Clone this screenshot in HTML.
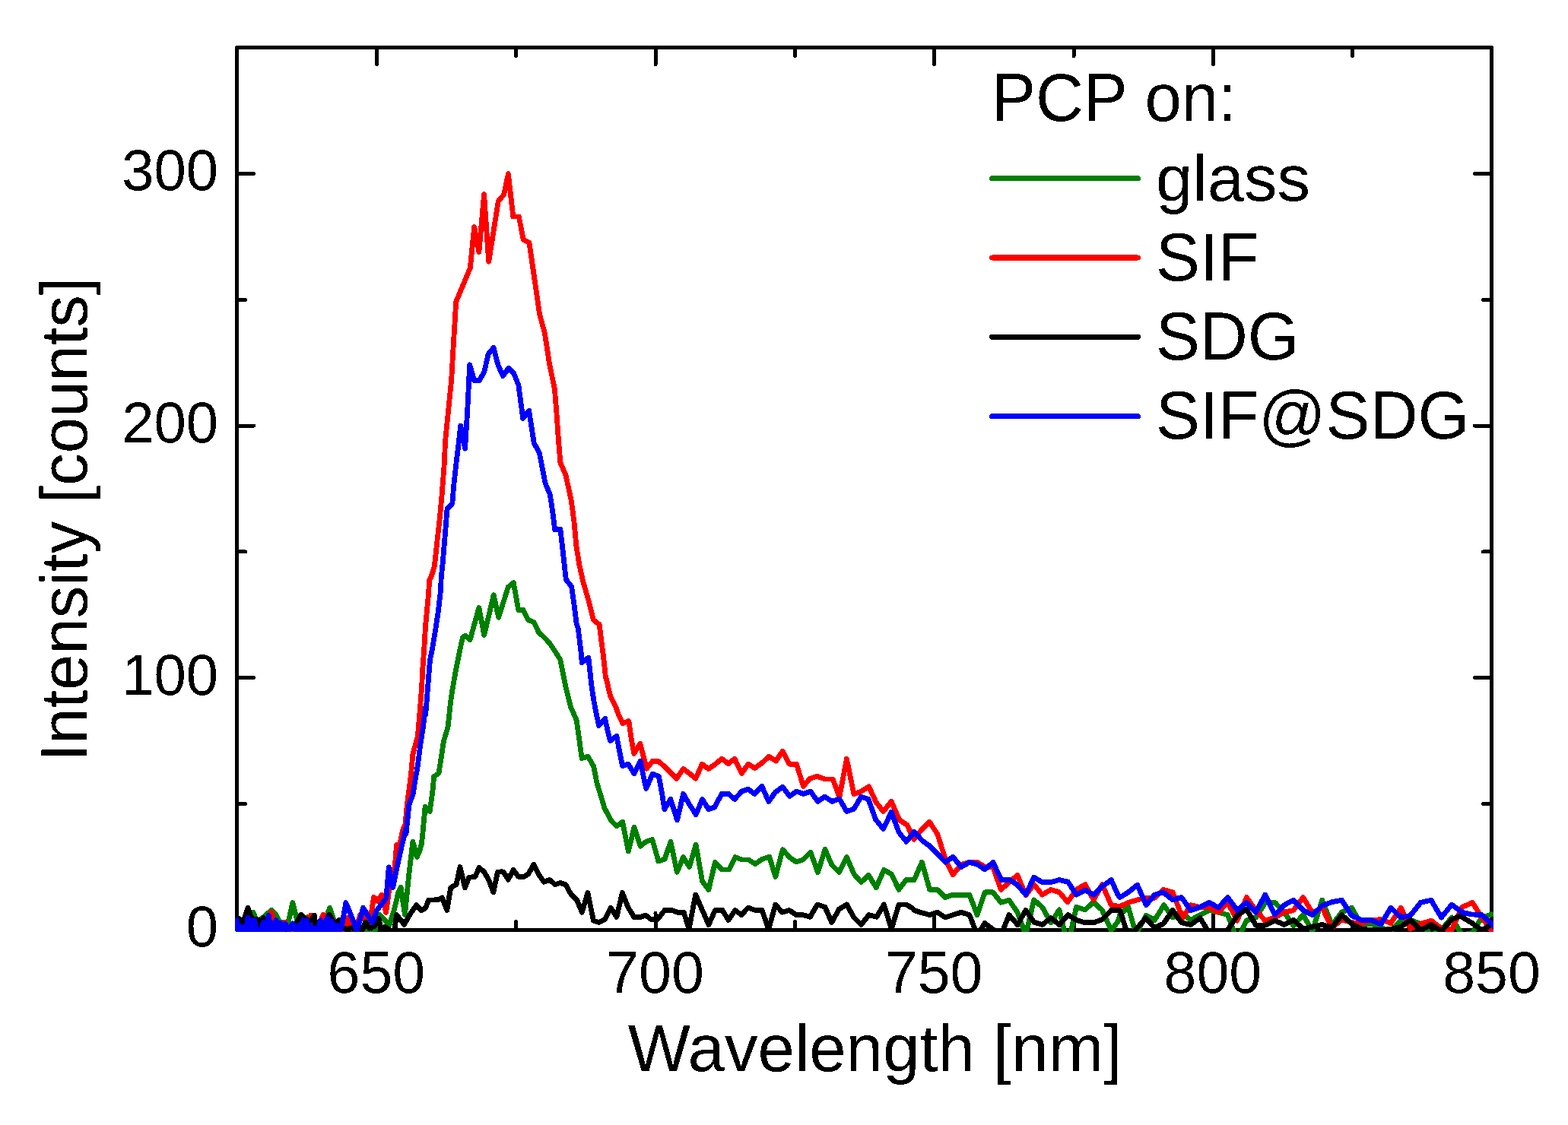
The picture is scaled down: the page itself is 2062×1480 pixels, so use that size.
<!DOCTYPE html>
<html lang="en"><head><meta charset="utf-8"><title>PCP emission spectra</title>
<style>
html,body{margin:0;padding:0;background:#fff;}
body{width:2062px;height:1480px;}
svg{display:block;}
text{font-family:"Liberation Sans",sans-serif;fill:#000;}
.tick{font-size:77px;}
.lab{font-size:87px;}
.ax{stroke:#000;stroke-width:5;fill:none;}
.cv{fill:none;stroke-width:6.8;stroke-linejoin:round;stroke-linecap:round;}
</style></head><body>
<svg width="2062" height="1480" viewBox="0 0 2062 1480">
<rect x="0" y="0" width="2062" height="1480" fill="#fff"/>
<defs><filter id="crisp" x="0" y="0" width="2062" height="1480" filterUnits="userSpaceOnUse" color-interpolation-filters="sRGB"><feComponentTransfer><feFuncA type="discrete" tableValues="0 1"/></feComponentTransfer></filter><clipPath id="clip"><rect x="309" y="60" width="1655" height="1166"/></clipPath></defs>
<g shape-rendering="crispEdges">
<rect class="ax" stroke-linejoin="round" x="311.5" y="62.5" width="1650" height="1161"/>
<path class="ax" stroke-linecap="round" d="M495.33 1223.50V1201.50M495.33 62.50V84.50M862.00 1223.50V1201.50M862.00 62.50V84.50M1228.67 1223.50V1201.50M1228.67 62.50V84.50M1595.33 1223.50V1201.50M1595.33 62.50V84.50M678.67 1223.50V1212.50M678.67 62.50V73.50M1045.33 1223.50V1212.50M1045.33 62.50V73.50M1412.00 1223.50V1212.50M1412.00 62.50V73.50M1778.67 1223.50V1212.50M1778.67 62.50V73.50M311.50 891.79H333.50M1961.50 891.79H1939.50M311.50 560.07H333.50M1961.50 560.07H1939.50M311.50 228.36H333.50M1961.50 228.36H1939.50M311.50 1057.64H322.50M1961.50 1057.64H1950.50M311.50 725.93H322.50M1961.50 725.93H1950.50M311.50 394.21H322.50M1961.50 394.21H1950.50"/>
</g>
<g clip-path="url(#clip)" shape-rendering="crispEdges">
<path class="cv" stroke="#008000" d="M311.3 1222.2 L314.8 1212.3 L327.6 1222.2 L333.1 1200.2 L337.5 1211.4 L343.4 1208.4 L349.3 1204.5 L353.3 1200.5 L357.2 1197.3 L363.1 1203.5 L368.1 1213.3 L378.9 1214.3 L384.9 1187.4 L391.3 1213.3 L398.7 1218.3 L404.6 1206.4 L410.5 1218.3 L428.3 1208.4 L433.7 1194.3 L439.1 1210.4 L442.1 1212.8 L448.0 1221.2 L457.9 1219.3 L467.7 1223.5 L479.7 1230.1 L483.2 1225.4 L488.1 1229.1 L492.6 1226.4 L499.0 1203.0 L505.4 1209.9 L512.3 1216.3 L518.2 1197.5 L523.6 1174.9 L527.1 1167.5 L532.5 1203.5 L537.9 1149.2 L542.9 1107.3 L548.3 1127.5 L551.8 1119.6 L554.5 1109.7 L556.5 1090.0 L559.1 1061.6 L565.2 1067.4 L567.4 1052.0 L569.1 1039.1 L570.6 1021.8 L577.0 1017.3 L580.2 996.8 L583.5 974.9 L589.2 955.7 L591.8 930.0 L594.4 910.5 L598.9 884.8 L602.7 865.6 L605.3 852.7 L608.5 838.6 L611.7 836.3 L618.1 841.8 L629.9 799.4 L636.7 835.4 L649.2 782.7 L655.6 812.3 L668.2 772.5 L675.3 766.4 L681.7 802.4 L688.1 802.4 L694.5 815.5 L702.2 818.7 L708.6 832.2 L715.7 838.6 L722.8 846.3 L729.8 856.6 L736.9 868.1 L740.1 884.8 L744.0 904.1 L750.4 929.8 L754.9 940.0 L758.3 947.9 L761.7 972.3 L765.1 997.5 L773.3 995.2 L780.7 1008.3 L784.8 1029.4 L788.9 1042.9 L795.0 1063.3 L803.8 1079.6 L810.9 1086.8 L818.7 1081.4 L826.3 1120.1 L834.0 1088.2 L842.1 1113.3 L849.6 1107.2 L857.8 1104.5 L865.9 1133.0 L874.1 1130.3 L881.9 1107.2 L890.3 1147.3 L898.5 1127.6 L906.6 1140.5 L915.1 1111.3 L923.6 1159.5 L931.9 1170.4 L940.4 1134.4 L949.2 1143.9 L958.7 1143.9 L966.8 1127.6 L975.7 1131.0 L984.5 1131.0 L993.1 1136.7 L1002.2 1130.3 L1011.7 1127.2 L1019.8 1153.4 L1029.3 1117.7 L1038.1 1127.6 L1047.0 1134.0 L1055.8 1131.0 L1066.0 1121.2 L1075.5 1147.7 L1085.0 1117.4 L1093.8 1137.8 L1103.6 1147.3 L1113.5 1127.6 L1123.0 1150.0 L1132.5 1160.6 L1142.3 1151.3 L1152.2 1167.6 L1162.4 1144.3 L1172.3 1150.0 L1182.1 1170.4 L1191.6 1157.5 L1200.0 1157.5 L1202.2 1157.5 L1212.4 1134.1 L1222.6 1170.4 L1232.8 1170.4 L1243.0 1180.5 L1253.1 1177.1 L1274.9 1177.1 L1285.1 1203.6 L1295.2 1173.8 L1305.8 1173.8 L1316.3 1187.3 L1327.1 1184.2 L1338.0 1200.2 L1348.9 1230.1 L1359.7 1183.9 L1370.6 1193.4 L1382.1 1213.8 L1393.0 1196.8 L1404.3 1243.7 L1415.4 1193.4 L1427.0 1196.8 L1438.2 1186.7 L1449.4 1197.5 L1461.3 1224.0 L1470.0 1212.5 L1472.9 1202.9 L1483.8 1193.4 L1493.9 1228.7 L1507.3 1204.3 L1518.4 1210.4 L1530.6 1190.7 L1542.2 1207.0 L1553.7 1200.9 L1565.9 1210.4 L1578.1 1203.6 L1590.4 1197.5 L1602.3 1200.2 L1614.5 1203.6 L1627.0 1236.9 L1639.2 1211.1 L1651.5 1207.0 L1663.7 1188.0 L1676.6 1187.3 L1688.8 1200.2 L1701.0 1217.9 L1713.7 1203.6 L1725.9 1224.7 L1738.7 1184.2 L1751.6 1216.5 L1764.5 1200.2 L1777.4 1194.1 L1790.3 1216.5 L1803.2 1215.2 L1816.1 1220.6 L1829.0 1224.7 L1842.3 1211.1 L1854.8 1210.4 L1868.4 1215.2 L1882.0 1230.1 L1895.5 1223.3 L1909.1 1207.0 L1922.7 1230.1 L1936.3 1227.4 L1948.5 1207.0 L1961.5 1202.9"/>
<path class="cv" stroke="#ff0000" d="M311.3 1220.2 L319.2 1210.1 L321.2 1217.3 L325.7 1223.2 L347.4 1223.5 L349.3 1221.2 L353.3 1208.4 L356.7 1200.2 L360.2 1209.4 L365.1 1218.3 L375.0 1213.3 L378.9 1222.2 L388.3 1222.7 L398.7 1218.3 L408.5 1204.2 L411.5 1213.3 L418.4 1218.3 L425.3 1203.2 L428.3 1214.3 L432.2 1222.2 L440.1 1212.3 L447.0 1223.5 L451.9 1222.2 L456.9 1207.4 L459.8 1217.3 L467.7 1223.5 L473.7 1203.5 L473.7 1203.5 L480.2 1209.4 L486.1 1214.3 L491.6 1180.3 L496.5 1185.2 L501.9 1177.3 L507.6 1200.5 L511.3 1173.9 L515.3 1157.1 L518.9 1141.3 L520.4 1127.5 L521.4 1111.4 L525.9 1110.2 L529.1 1094.9 L530.3 1090.0 L533.1 1084.1 L535.3 1058.4 L537.9 1039.1 L540.4 1019.9 L543.0 991.6 L549.4 968.5 L552.6 930.0 L552.6 929.8 L554.6 904.1 L555.9 878.4 L557.8 852.7 L559.7 821.9 L562.9 788.5 L564.8 762.8 L566.5 760.0 L571.3 745.3 L573.2 727.9 L576.4 698.4 L578.3 681.7 L580.9 653.5 L584.1 612.4 L585.6 580.0 L589.2 544.1 L593.7 499.1 L596.5 450.3 L599.7 397.1 L618.3 352.5 L623.7 298.6 L629.9 331.3 L636.6 255.6 L642.7 344.2 L655.3 264.6 L662.6 256.2 L668.4 228.6 L674.8 284.9 L682.3 284.9 L688.3 315.3 L696.0 319.1 L709.5 413.1 L716.5 438.8 L722.3 477.3 L729.4 512.0 L732.0 544.1 L734.5 580.0 L736.9 608.5 L744.0 625.2 L751.0 657.3 L754.9 685.6 L757.8 717.7 L761.8 743.0 L767.0 766.0 L772.7 785.5 L777.3 802.7 L780.2 815.3 L788.2 821.7 L790.5 840.6 L792.8 857.9 L794.5 872.8 L796.3 890.0 L798.4 897.7 L802.5 915.3 L809.3 928.9 L813.3 939.7 L818.8 951.6 L826.9 948.6 L830.3 972.3 L833.7 991.3 L841.8 978.4 L845.2 991.3 L850.3 1011.3 L858.1 1001.5 L865.6 1001.5 L873.8 1008.3 L881.2 1015.8 L889.6 1024.2 L898.6 1011.4 L906.3 1017.1 L914.9 1024.2 L923.3 1005.2 L931.7 1011.4 L940.3 1005.6 L949.1 998.1 L957.7 1004.7 L966.1 998.1 L975.3 1017.4 L984.0 1005.2 L992.6 1010.6 L1002.1 1003.6 L1011.2 995.4 L1020.0 1000.9 L1020.4 1001.1 L1029.2 988.2 L1038.0 1005.2 L1047.5 1005.2 L1056.4 1034.4 L1065.2 1024.2 L1074.7 1021.2 L1084.2 1024.9 L1095.1 1024.9 L1103.9 1048.6 L1113.4 998.4 L1122.9 1044.6 L1132.4 1041.2 L1142.6 1034.8 L1152.1 1055.4 L1161.6 1067.6 L1172.2 1054.3 L1182.6 1078.5 L1192.8 1085.3 L1201.9 1104.3 L1212.5 1090.7 L1222.3 1081.2 L1232.9 1097.5 L1243.1 1130.1 L1253.1 1150.7 L1264.0 1137.5 L1274.9 1134.1 L1285.1 1134.1 L1295.2 1140.5 L1305.8 1140.5 L1316.3 1170.4 L1327.1 1160.9 L1338.0 1151.3 L1348.9 1177.8 L1359.7 1163.6 L1370.6 1177.1 L1382.1 1170.4 L1393.0 1173.8 L1403.9 1186.7 L1415.4 1170.4 L1427.0 1163.6 L1438.2 1183.9 L1449.4 1163.6 L1461.3 1190.7 L1470.0 1192.1 L1472.2 1192.8 L1483.8 1187.3 L1495.6 1183.9 L1507.3 1181.2 L1518.4 1181.2 L1529.9 1170.4 L1542.2 1173.8 L1555.1 1207.7 L1565.9 1190.7 L1578.1 1193.4 L1590.4 1194.1 L1602.3 1200.2 L1614.5 1187.3 L1627.0 1211.1 L1639.2 1180.5 L1651.5 1197.5 L1663.7 1211.1 L1676.6 1207.0 L1688.8 1200.2 L1701.0 1197.5 L1713.7 1180.5 L1725.9 1200.9 L1738.7 1194.1 L1751.6 1220.6 L1764.5 1209.7 L1777.4 1213.8 L1790.3 1215.2 L1803.2 1210.4 L1816.1 1209.7 L1829.0 1214.5 L1842.3 1194.1 L1854.8 1222.0 L1868.4 1215.2 L1882.0 1211.1 L1895.5 1221.3 L1909.1 1223.3 L1922.7 1193.4 L1936.3 1187.3 L1948.5 1207.0 L1961.5 1224.7"/>
<path class="cv" stroke="#000000" d="M311.3 1221.2 L313.8 1208.4 L319.7 1213.3 L326.1 1194.3 L330.6 1208.4 L339.5 1210.1 L340.9 1221.2 L346.4 1207.6 L350.3 1218.3 L355.3 1223.5 L377.0 1223.5 L381.9 1221.4 L386.8 1222.2 L390.8 1213.3 L395.7 1203.2 L401.6 1208.4 L407.5 1212.3 L413.5 1204.2 L414.9 1217.3 L418.4 1223.5 L427.3 1213.3 L433.2 1203.2 L438.1 1213.3 L442.1 1215.3 L446.0 1210.1 L450.0 1221.2 L456.9 1222.2 L462.8 1220.4 L467.7 1223.2 L475.6 1223.5 L480.9 1213.3 L485.7 1221.2 L492.6 1218.3 L498.0 1208.4 L501.4 1223.5 L506.4 1219.3 L512.3 1223.5 L518.2 1226.2 L521.7 1203.5 L531.5 1216.3 L539.9 1201.5 L547.8 1190.6 L553.7 1197.7 L559.7 1194.6 L563.6 1184.2 L576.4 1183.7 L581.4 1181.0 L587.8 1197.5 L592.7 1167.9 L600.1 1163.5 L605.0 1140.5 L611.5 1167.9 L616.9 1154.1 L624.8 1153.6 L630.2 1141.3 L636.6 1147.2 L642.5 1157.1 L648.9 1173.9 L654.4 1147.2 L660.0 1146.7 L662.2 1147.3 L668.3 1157.1 L675.1 1144.3 L681.9 1153.4 L688.7 1153.4 L694.8 1150.0 L701.9 1137.1 L709.1 1151.3 L715.2 1160.2 L722.6 1157.5 L730.1 1163.6 L736.9 1161.5 L743.7 1163.6 L750.5 1175.8 L758.6 1183.9 L765.4 1200.2 L772.9 1174.4 L780.4 1211.1 L787.8 1213.5 L795.3 1209.7 L803.2 1194.1 L810.9 1206.3 L818.4 1174.4 L825.8 1193.4 L834.0 1206.8 L841.5 1206.8 L848.9 1204.0 L856.4 1209.7 L864.5 1209.7 L874.1 1197.5 L883.6 1197.5 L891.0 1200.2 L899.2 1200.2 L906.0 1222.0 L914.8 1177.1 L931.9 1216.5 L940.4 1197.5 L949.9 1197.5 L958.0 1210.4 L966.8 1197.5 L975.0 1203.6 L983.8 1194.1 L993.3 1197.5 L1002.2 1197.5 L1010.7 1222.6 L1019.8 1190.0 L1028.6 1200.2 L1037.9 1197.5 L1047.0 1203.6 L1055.8 1203.6 L1065.3 1206.3 L1074.8 1190.0 L1085.0 1193.4 L1093.8 1213.5 L1103.3 1196.2 L1113.5 1190.0 L1123.0 1207.0 L1132.5 1216.5 L1142.7 1203.6 L1152.9 1206.3 L1162.4 1190.0 L1172.3 1222.0 L1182.1 1190.0 L1191.6 1190.0 L1200.0 1194.8 L1202.2 1197.5 L1212.4 1200.9 L1222.6 1203.6 L1232.8 1200.2 L1243.0 1207.0 L1253.1 1203.6 L1264.0 1200.2 L1274.9 1203.6 L1285.1 1230.1 L1295.2 1214.5 L1305.8 1222.6 L1316.3 1230.1 L1327.1 1203.6 L1338.0 1216.5 L1348.9 1197.5 L1359.7 1213.1 L1370.6 1216.5 L1382.1 1207.7 L1393.0 1216.5 L1404.5 1203.6 L1415.4 1210.4 L1427.0 1213.8 L1438.2 1213.8 L1449.4 1209.7 L1461.3 1197.5 L1470.0 1197.5 L1472.9 1197.5 L1483.8 1232.8 L1495.6 1220.6 L1506.8 1207.7 L1518.4 1220.6 L1529.9 1215.2 L1542.2 1197.5 L1553.7 1213.8 L1565.9 1216.5 L1578.1 1207.7 L1590.4 1227.4 L1602.3 1230.1 L1614.5 1223.5 L1627.0 1204.3 L1639.2 1196.2 L1651.5 1217.2 L1663.7 1217.2 L1676.6 1211.1 L1688.8 1216.5 L1701.0 1210.4 L1713.7 1222.0 L1725.9 1219.2 L1738.7 1216.5 L1751.6 1220.6 L1764.5 1203.6 L1777.4 1215.2 L1790.3 1222.0 L1803.2 1223.5 L1816.1 1223.5 L1829.0 1222.6 L1842.3 1219.2 L1854.8 1210.4 L1868.4 1223.5 L1882.0 1216.5 L1895.5 1224.7 L1909.1 1209.7 L1920.0 1205.0 L1934.9 1213.8 L1948.5 1223.5 L1961.5 1216.5"/>
<path class="cv" stroke="#0000ff" d="M311.3 1210.6 L313.1 1224.5 L314.8 1217.8 L318.0 1224.5 L321.2 1219.3 L323.7 1224.5 L326.1 1207.1 L328.4 1224.5 L330.6 1211.1 L332.6 1224.5 L334.5 1210.6 L337.5 1224.5 L340.5 1223.4 L343.4 1224.5 L346.4 1213.3 L349.8 1224.5 L353.3 1204.2 L356.2 1224.5 L359.2 1214.5 L361.2 1224.5 L363.1 1210.6 L366.1 1224.5 L369.1 1214.5 L372.0 1224.5 L375.0 1215.0 L379.9 1224.5 L384.9 1215.0 L388.8 1224.5 L392.7 1217.5 L395.7 1224.5 L398.7 1210.6 L401.1 1224.5 L403.6 1211.1 L406.1 1224.5 L408.5 1217.3 L411.5 1224.5 L414.5 1221.4 L417.9 1224.5 L421.4 1210.6 L423.1 1224.5 L424.8 1214.5 L427.5 1224.5 L430.2 1207.1 L433.2 1224.5 L436.2 1211.6 L438.1 1224.5 L440.1 1217.5 L442.6 1224.5 L445.0 1217.5 L447.0 1224.5 L449.0 1220.4 L454.9 1187.7 L465.8 1214.5 L469.2 1225.2 L472.2 1214.5 L477.6 1194.3 L489.6 1213.8 L495.5 1197.5 L502.4 1188.7 L507.9 1181.8 L511.3 1140.8 L516.7 1167.7 L520.4 1149.2 L524.6 1129.5 L529.1 1109.7 L533.8 1090.0 L534.0 1096.9 L536.0 1077.7 L537.9 1058.4 L543.0 1045.6 L545.6 1028.9 L549.4 1007.0 L552.6 981.4 L556.5 955.7 L559.7 930.0 L559.7 940.0 L561.6 916.9 L563.6 891.2 L565.5 868.1 L568.7 852.7 L572.5 829.6 L576.4 803.9 L579.6 775.7 L580.2 760.0 L582.2 740.8 L584.1 717.7 L586.3 692.0 L588.0 669.5 L594.8 662.4 L596.9 636.8 L600.1 608.5 L602.7 586.7 L605.7 560.1 L611.6 590.3 L614.5 544.1 L617.7 479.9 L623.5 500.4 L630.5 500.4 L636.9 488.9 L642.1 465.8 L649.1 457.4 L654.9 479.9 L661.3 494.6 L668.8 484.4 L675.5 490.8 L681.9 506.8 L687.7 550.5 L695.6 540.2 L701.8 580.0 L702.2 582.8 L709.3 595.7 L713.8 618.8 L717.0 635.5 L723.4 650.9 L726.6 672.7 L729.8 697.1 L736.9 696.5 L740.1 724.1 L744.0 760.0 L744.6 762.8 L751.7 771.8 L754.9 794.9 L758.1 820.6 L760.1 825.7 L762.4 844.1 L764.1 857.9 L765.2 871.6 L773.9 865.0 L775.6 880.8 L776.7 890.0 L777.3 897.7 L780.7 920.7 L784.1 938.4 L787.5 954.7 L795.7 945.2 L799.1 961.5 L802.5 974.6 L810.9 968.3 L814.7 988.6 L818.5 1007.6 L826.2 1005.2 L834.0 1017.8 L842.1 1001.3 L845.9 1019.9 L849.7 1037.5 L858.1 1018.2 L866.3 1021.2 L870.4 1042.9 L873.8 1064.7 L881.9 1051.4 L890.5 1078.9 L898.6 1044.3 L906.3 1057.9 L915.2 1071.5 L923.6 1051.4 L931.7 1064.7 L939.6 1062.0 L949.1 1044.3 L957.9 1044.3 L966.1 1051.4 L975.6 1040.9 L983.7 1038.2 L992.6 1044.6 L1001.7 1034.1 L1010.9 1054.5 L1020.0 1041.6 L1020.4 1041.6 L1029.2 1035.1 L1038.3 1047.5 L1047.5 1041.2 L1056.4 1044.3 L1065.9 1041.2 L1075.4 1054.3 L1084.5 1048.2 L1094.4 1054.3 L1103.9 1051.1 L1113.4 1067.6 L1122.9 1064.2 L1132.4 1048.2 L1141.9 1051.3 L1151.4 1077.8 L1161.6 1090.7 L1172.2 1068.3 L1182.0 1094.8 L1191.9 1107.3 L1202.3 1094.1 L1212.5 1105.7 L1222.7 1113.1 L1232.9 1123.3 L1243.1 1134.2 L1253.2 1127.4 L1264.0 1140.5 L1274.9 1134.4 L1285.1 1137.1 L1295.2 1143.9 L1305.8 1134.4 L1317.0 1157.5 L1327.8 1157.5 L1338.0 1164.2 L1348.9 1177.1 L1359.7 1154.1 L1370.6 1160.6 L1382.1 1160.6 L1393.0 1157.5 L1404.5 1160.2 L1415.4 1177.1 L1427.0 1171.0 L1438.2 1177.1 L1449.4 1166.3 L1461.3 1157.5 L1470.0 1177.1 L1472.9 1180.5 L1483.8 1173.8 L1495.6 1164.2 L1507.3 1190.7 L1518.4 1177.1 L1529.9 1173.8 L1542.2 1183.9 L1553.7 1180.5 L1565.9 1197.5 L1578.1 1193.4 L1590.4 1187.3 L1602.3 1194.1 L1614.5 1180.5 L1627.0 1197.5 L1639.2 1187.3 L1651.5 1200.2 L1663.7 1177.1 L1676.6 1203.6 L1688.8 1190.7 L1701.0 1184.2 L1713.7 1197.5 L1725.9 1203.6 L1738.7 1191.4 L1751.6 1186.7 L1764.5 1184.2 L1777.4 1204.3 L1790.3 1210.4 L1803.2 1210.4 L1816.1 1215.8 L1829.0 1194.1 L1842.3 1207.0 L1854.8 1204.3 L1868.4 1187.3 L1882.0 1184.2 L1895.5 1207.0 L1909.1 1190.0 L1922.7 1200.2 L1934.9 1202.9 L1948.5 1203.6 L1961.5 1215.2 L1966.1 1220.6"/>
</g>
<g filter="url(#crisp)">
<text class="tick" transform="translate(494.83 1306.00)" text-anchor="middle">650</text>
<text class="tick" transform="translate(861.50 1306.00)" text-anchor="middle">700</text>
<text class="tick" transform="translate(1228.17 1306.00)" text-anchor="middle">750</text>
<text class="tick" transform="translate(1594.83 1306.00)" text-anchor="middle">800</text>
<text class="tick" transform="translate(1961.50 1306.00)" text-anchor="middle">850</text>
<text class="tick" transform="translate(287.00 1245.30)" text-anchor="end" style="font-size:76px">0</text>
<text class="tick" transform="translate(287.00 913.59)" text-anchor="end" style="font-size:76px">100</text>
<text class="tick" transform="translate(287.00 581.87)" text-anchor="end" style="font-size:76px">200</text>
<text class="tick" transform="translate(287.00 250.16)" text-anchor="end" style="font-size:76px">300</text>
<text class="lab" transform="translate(1150.50 1409.00)" text-anchor="middle">Wavelength [nm]</text>
<text class="lab" transform="translate(114.00 683.50) rotate(-90) scale(1 1.02)" text-anchor="middle" style="font-size:85px">Intensity [counts]</text>
<text class="lab" transform="translate(1304.00 159.00) scale(1 1.02)">PCP on:</text>
<line x1="1304.5" y1="234.5" x2="1496.5" y2="234.5" stroke="#008000" stroke-width="7" stroke-linecap="round"/>
<text class="lab" transform="translate(1520.00 264.30) scale(1 0.98)">glass</text>
<line x1="1304.5" y1="338.9" x2="1496.5" y2="338.9" stroke="#ff0000" stroke-width="7" stroke-linecap="round"/>
<text class="lab" transform="translate(1520.00 368.60) scale(1 1.03)">SIF</text>
<line x1="1304.5" y1="443.3" x2="1496.5" y2="443.3" stroke="#000000" stroke-width="7" stroke-linecap="round"/>
<text class="lab" transform="translate(1520.00 472.90) scale(1 1.03)">SDG</text>
<line x1="1304.5" y1="547.7" x2="1496.5" y2="547.7" stroke="#0000ff" stroke-width="7" stroke-linecap="round"/>
<text class="lab" transform="translate(1520.00 577.20) scale(1 1.03)">SIF@SDG</text>
</g>
</svg></body></html>
